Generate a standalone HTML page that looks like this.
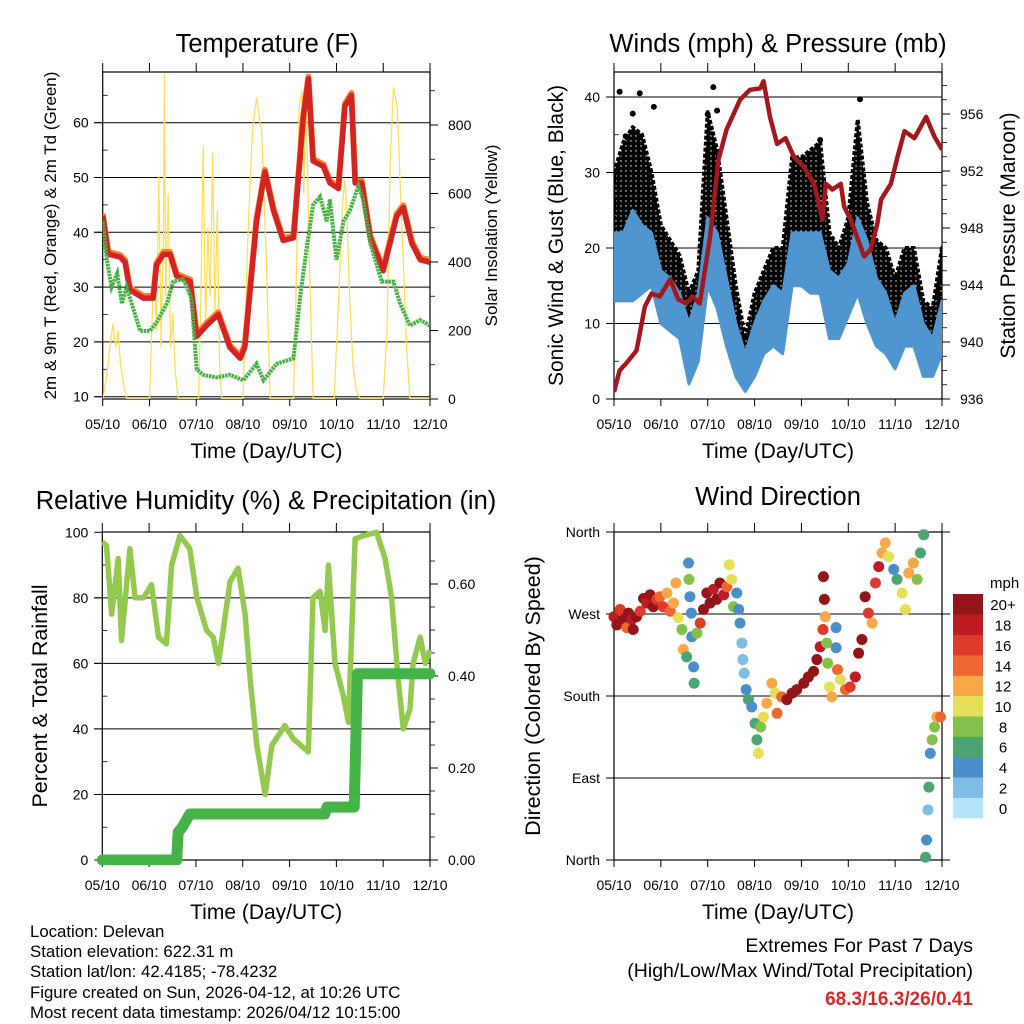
<!DOCTYPE html>
<html><head><meta charset="utf-8"><style>
html,body{margin:0;padding:0;background:#fff}
svg{display:block;font-family:"Liberation Sans",sans-serif}
</style></head><body>
<svg id="root" width="1024" height="1024" viewBox="0 0 1024 1024" xmlns="http://www.w3.org/2000/svg">
<defs>
<pattern id="dotpat" width="5" height="5" patternUnits="userSpaceOnUse"><rect width="5" height="5" fill="#000"/><circle cx="1" cy="1" r="0.7" fill="#fff"/></pattern>
</defs>
<rect width="1024" height="1024" fill="#fff"/>
<g id="g1"></g>
<g id="g2"></g>
<g id="g3"></g>
<g id="g4"></g>
<g id="gt" font-size="16.8" fill="#000">
<text x="30" y="937">Location: Delevan</text>
<text x="30" y="957">Station elevation: 622.31 m</text>
<text x="30" y="977">Station lat/lon: 42.4185; -78.4232</text>
<text x="30" y="998">Figure created on Sun, 2026-04-12, at 10:26 UTC</text>
<text x="30" y="1018">Most recent data timestamp: 2026/04/12 10:15:00</text>
<text x="973" y="952" text-anchor="end" font-size="19.5">Extremes For Past 7 Days</text>
<text x="973" y="977" text-anchor="end" font-size="19.5">(High/Low/Max Wind/Total Precipitation)</text>
<text x="973" y="1005" text-anchor="end" font-size="19" font-weight="bold" fill="#d42a2a">68.3/16.3/26/0.41</text>
</g>
</svg>
<script>
// ---------- DATA ----------
const dayLabels = ["05/10","06/10","07/10","08/10","09/10","10/10","11/10","12/10"];
// Temperature (F)
const tempT = [0,0.12,0.37,0.48,0.58,0.87,1.08,1.15,1.3,1.44,1.58,1.87,2.01,2.22,2.47,2.72,2.94,3.04,3.29,3.47,3.65,3.86,4.08,4.29,4.40,4.5,4.72,4.86,5.04,5.18,5.32,5.4,5.54,5.72,6.0,6.29,6.43,6.61,6.79,7.0];
const tempV = [43,36,35.5,34.5,29.5,28,28,34,36,36,32,31,21,23,25,19,17,19,42,51,44,38.5,39,61,68,53,52,49,48,63,65,49,49,39,33,43,44.5,38,35,34.5];
const dewT = [0,0.09,0.19,0.31,0.41,0.51,0.62,0.8,1.01,1.15,1.37,1.51,1.72,1.9,2.01,2.15,2.44,2.72,3.01,3.29,3.44,3.72,4.08,4.22,4.36,4.5,4.65,4.79,4.86,5.0,5.15,5.29,5.47,5.57,5.72,5.97,6.22,6.36,6.57,6.79,7.0];
const dewV = [42,35,30,32.5,27,30,27,22,22,23.5,27,31,31.5,28,15,14,13.5,14,13,16,13,16,17,28,37,45,46.5,42,46,35,42,44,48.5,46,38,31,31,27,23,24,23];
const solarT = [0,.08,.15,.22,.28,.33,.38,.45,.52,1.0,1.1,1.15,1.2,1.25,1.3,1.32,1.35,1.4,1.45,1.5,1.55,1.62,2.05,2.1,2.15,2.2,2.25,2.3,2.35,2.4,2.45,2.5,2.55,3.0,3.1,3.2,3.29,3.4,3.5,3.58,4.08,4.15,4.2,4.26,4.3,4.35,4.42,4.5,4.95,5.05,5.12,5.18,5.22,5.28,5.35,5.42,5.5,6.0,6.08,6.15,6.22,6.3,6.4,6.5,6.57,7.0];
const solarV = [0,60,150,220,150,200,100,40,0,0,400,200,650,150,500,950,300,600,150,250,80,0,0,300,740,200,500,300,720,250,550,100,0,0,450,780,880,780,400,0,0,400,850,900,600,880,400,0,0,300,550,640,550,300,100,30,0,0,200,700,910,850,500,150,0,0];
// Winds (mph) & pressure (mb), sampled every 0.2 day
const windT = [0,0.2,0.4,0.6,0.8,1.0,1.2,1.4,1.6,1.8,2.0,2.2,2.4,2.6,2.8,3.0,3.2,3.4,3.6,3.8,4.0,4.2,4.4,4.6,4.8,5.0,5.2,5.4,5.6,5.8,6.0,6.2,6.4,6.6,6.8,7.0];
const windLo = [13,13,13,14,15,10,9,8,2,5,15,12,7,3,1,3,6,7,6,15,15,14,14,8,8,11,14,10,7,6,4,7,7,3,3,6];
const windHi = [22,22,25,23,22,17,16,14,10,14,24,22,16,10,6,10,13,15,14,22,22,22,22,17,16,18,24,21,16,14,10,14,15,10,8,13];
const gustHi = [30,34,36,35,30,23,21,19,14,17,38,33,24,15,8,14,17,20,20,32,32,33,34,22,20,24,37,26,21,20,16,20,20,13,12,20];
const gustPeakT = [0.12,0.55,0.85,2.12,5.25,0.4,2.0,0.25,4.4,2.2];
const gustPeakV = [40.7,40.5,38.7,41.3,39.7,37.8,37.7,34.8,34.3,38.2];
const presT = [0,0.12,0.26,0.48,0.66,0.8,0.98,1.2,1.37,1.54,1.68,1.83,2.05,2.23,2.4,2.69,2.9,3.12,3.19,3.33,3.48,3.66,3.84,4.05,4.27,4.45,4.52,4.66,4.84,4.91,5.05,5.34,5.48,5.62,5.7,5.91,6.05,6.2,6.41,6.66,6.84,7.0];
const presV = [936.5,938.0,938.5,939.4,942.5,943.4,943.2,944.4,943,942.7,943.2,942.7,947.4,952.8,954.9,957,957.7,957.8,958.3,955.8,953.9,954.3,953,952.3,951.1,948.6,951.1,950.7,951.1,949.5,948.6,946,946.5,948.3,950,951.1,953,954.8,954.3,955.8,954.4,953.5];
// Relative humidity (%) & precipitation (in)
const rhT = [0,0.09,0.2,0.34,0.41,0.59,0.7,0.88,1.05,1.2,1.37,1.48,1.66,1.87,2.02,2.23,2.37,2.48,2.73,2.9,3.05,3.16,3.3,3.48,3.62,3.9,4.08,4.4,4.5,4.65,4.76,4.83,4.97,5.15,5.26,5.4,5.58,5.86,6.04,6.18,6.32,6.43,6.57,6.64,6.79,6.9,7.0];
const rhV = [97,96,75,92,67,95,80,80,84,68,66,90,99,95,80,70,68,60,85,89,75,55,35,20,35,41,37,33,80,82,70,90,60,50,42,98,99,100,92,80,55,40,46,60,68,60,64];
const precipT = [0,1.59,1.62,1.7,1.87,4.75,4.8,5.38,5.45,7.0];
const precipV = [0,0,0.06,0.07,0.1,0.1,0.115,0.115,0.405,0.405];
// Wind direction (deg) colored by speed (mph)
const dirT = [0,.06,.13,.2,.27,.31,.38,.41,.48,.56,.63,.70,.77,.84,.91,.98,1.05,1.13,1.2,1.27,1.32,1.37,1.45,1.48,1.55,1.59,1.6,1.62,1.65,1.66,1.7,1.71,1.77,1.84,1.91,1.98,2.05,2.12,2.19,2.26,2.34,2.41,2.46,2.51,2.55,2.62,2.66,2.69,2.73,2.75,2.78,2.82,2.87,2.94,3.01,3.05,3.08,3.13,3.19,3.26,3.37,3.44,3.48,3.58,3.69,3.8,3.9,4.05,4.15,4.26,4.33,4.4,4.46,4.47,4.49,4.51,4.54,4.56,4.6,4.65,4.74,4.74,4.77,4.83,4.94,5.04,5.15,5.22,5.29,5.36,5.43,5.51,5.58,5.65,5.72,5.79,5.86,5.97,6.04,6.15,6.22,6.29,6.39,6.47,6.54,6.61,6.65,6.67,6.7,6.72,6.75,6.79,6.84,6.89,6.97];
const dirV = [267,258,275,264,255,271,264,253,267,273,287,282,291,278,286,289,278,293,273,282,304,266,253,231,223,326,308,289,271,245,212,194,249,260,275,293,282,297,286,304,291,300,324,308,278,293,275,260,238,220,205,187,176,168,150,132,117,146,157,172,194,183,161,179,176,183,187,194,201,207,220,234,253,311,286,267,238,216,190,179,255,233,209,198,187,190,201,227,242,289,271,260,304,322,337,348,333,319,308,293,275,315,326,308,337,357,3,22,55,80,117,132,146,157,157];
const dirS = [18,20,16,20,14,20,18,20,20,16,20,18,20,20,16,14,16,12,14,12,12,10,8,12,6,4,8,4,4,4,4,6,8,16,20,20,20,18,20,20,18,14,10,10,8,4,4,4,2,2,2,4,6,4,6,6,10,8,10,12,12,10,14,14,20,20,20,20,20,20,20,18,16,20,20,12,8,8,10,12,4,4,14,10,14,16,18,20,20,20,16,12,16,18,12,12,10,4,6,10,10,12,12,8,6,6,6,4,2,6,4,8,8,12,14];
const speedColors = ["#b7e3f7","#7fbde5","#4a8fc7","#4aa572","#84c14c","#e5df58","#f8a74a","#ee6731","#e03a2b","#bd1c23","#921619"];
const speedLabels = ["0","2","4","6","8","10","12","14","16","18","20+"];

// ---------- HELPERS ----------
const NS="http://www.w3.org/2000/svg";
function mk(parent, tag, attrs, txt){const e=document.createElementNS(NS,tag);for(const k in attrs)e.setAttribute(k,attrs[k]);if(txt!==undefined)e.textContent=txt;parent.appendChild(e);return e;}
function linear(d0,d1,r0,r1){return v=>r0+(v-d0)*(r1-r0)/(d1-d0);}
function pts(ts,vs,fx,fy){return ts.map((t,i)=>fx(t).toFixed(1)+","+fy(vs[i]).toFixed(1)).join(" ");}

function frame(g,P,opts){
  opts.grid.forEach(v=>{const y=P.yl(v);const l=mk(g,"line",{x1:P.gx0,x2:P.gx1,y1:y,y2:y,stroke:"#000","stroke-width":1});
    
    });
  const b=mk(g,"rect",{x:P.x0,y:P.y0,width:P.x1-P.x0,height:P.y1-P.y0,fill:"none",stroke:"#000","stroke-width":1.2});
  
  
  dayLabels.forEach((lab,i)=>{const x=P.x(i);
    mk(g,"line",{x1:x,x2:x,y1:P.y1,y2:P.y1+7,stroke:"#000"});
    mk(g,"line",{x1:x,x2:x,y1:P.y0,y2:P.y0-9,stroke:"#000"});
    const t=mk(g,"text",{x:x,y:P.y1+30,"text-anchor":"middle","font-size":14},lab);
    
    });
  const xt=mk(g,"text",{x:(P.x0+P.x1)/2,y:P.y1+59,"text-anchor":"middle","font-size":21},"Time (Day/UTC)");
  
  
  opts.lt.forEach((v,i)=>{const y=P.yl(v);mk(g,"line",{x1:P.x0-8,x2:P.x0,y1:y,y2:y,stroke:"#000"});
    const t=mk(g,"text",{x:P.x0-14,y:y+5,"text-anchor":"end","font-size":14},opts.ltl[i]);
    
    });
  (opts.lminor||[]).forEach(v=>{const y=P.yl(v);mk(g,"line",{x1:P.x0,x2:P.x0+5,y1:y,y2:y,stroke:"#000","stroke-width":0.8});});
  if(opts.rt){opts.rt.forEach((v,i)=>{const y=P.yr(v);mk(g,"line",{x1:P.x1,x2:P.x1+8,y1:y,y2:y,stroke:"#000"});
    const t=mk(g,"text",{x:P.x1+18,y:y+5,"font-size":14},opts.rtl[i]);
    
    });
    (opts.rminor||[]).forEach(v=>{const y=P.yr(v);mk(g,"line",{x1:P.x1,x2:P.x1+5,y1:y,y2:y,stroke:"#000","stroke-width":0.8});});}
  const tt=mk(g,"text",{x:opts.titleX,y:opts.titleY,"text-anchor":"middle","font-size":25.5},opts.title);
  
  
  const ly=mk(g,"text",{transform:`translate(${opts.lx},${(P.y0+P.y1)/2}) rotate(-90)`,"text-anchor":"middle","font-size":opts.lfs},opts.ltitle);
  
  
  if(opts.rtitle){const ry=mk(g,"text",{transform:`translate(${opts.rx},${(P.y0+P.y1)/2}) rotate(-90)`,"text-anchor":"middle","font-size":opts.rfs},opts.rtitle);
    
    }
}
function range(a,b,s){const r=[];for(let v=a;v<=b+1e-9;v+=s)r.push(+v.toFixed(4));return r;}

// ---------- PANEL 1: Temperature ----------
(function(){
const g=document.getElementById("g1");
const P={x0:102.7,x1:430,y0:72,y1:399,gx0:94,gx1:430};
P.x=linear(0,7,P.x0,P.x1);P.yl=linear(10,60,396.7,122.7);P.yr=linear(0,800,399,125);
const cl=mk(g,"clipPath",{id:"c1"});mk(cl,"rect",{x:P.x0,y:P.y0,width:P.x1-P.x0,height:P.y1-P.y0});
frame(g,P,{grid:[10,20,30,40,50,60],lt:[10,20,30,40,50,60],ltl:["10","20","30","40","50","60"],lminor:range(15,65,10),
  rt:[0,200,400,600,800],rtl:["0","200","400","600","800"],rminor:range(100,900,100),
  title:"Temperature (F)",titleX:267,titleY:52,ltitle:"2m & 9m T (Red, Orange) & 2m Td (Green)",lx:56,lfs:17,
  rtitle:"Solar Insolation (Yellow)",rx:497,rfs:17});
const d=mk(g,"g",{"clip-path":"url(#c1)"});
const s=mk(d,"polyline",{points:pts(solarT,solarV,P.x,P.yr),fill:"none",stroke:"#ffdf5a","stroke-width":1.3});


const o=mk(d,"polyline",{points:pts(tempT,tempV.map(v=>v+0.4),P.x,P.yl),fill:"none",stroke:"#f4822f","stroke-width":6,"stroke-linejoin":"round"});


const r=mk(d,"polyline",{points:pts(tempT,tempV,P.x,P.yl),fill:"none",stroke:"#d42323","stroke-width":5.5,"stroke-linejoin":"round"});


const gr=mk(d,"polyline",{points:pts(dewT,dewV,P.x,P.yl),fill:"none",stroke:"#45b043","stroke-width":4,"stroke-dasharray":"2.5 0.8"});


})();

// ---------- PANEL 2: Winds ----------
(function(){
const g=document.getElementById("g2");
const P={x0:614,x1:942,y0:72,y1:399,gx0:606,gx1:942};
P.x=linear(0,7,P.x0,P.x1);P.yl=linear(0,40,399,97);P.yr=linear(936,956,399,114);
const cl=mk(g,"clipPath",{id:"c2"});mk(cl,"rect",{x:P.x0,y:P.y0-12,width:P.x1-P.x0,height:P.y1-P.y0+12});
frame(g,P,{grid:[10,20,30,40],lt:[0,10,20,30,40],ltl:["0","10","20","30","40"],lminor:range(5,40,10),
  rt:[936,940,944,948,952,956],rtl:["936","940","944","948","952","956"],rminor:range(937,958,1),
  title:"Winds (mph) & Pressure (mb)",titleX:778,titleY:52,ltitle:"Sonic Wind & Gust (Blue, Black)",lx:563,lfs:21,
  rtitle:"Station Pressure (Maroon)",rx:1015,rfs:21});
const d=mk(g,"g",{"clip-path":"url(#c2)"});
const top=windT.map((t,i)=>P.x(t).toFixed(1)+","+P.yl(gustHi[i]).toFixed(1));
const bot=windT.map((t,i)=>P.x(t).toFixed(1)+","+P.yl(windHi[i]-4).toFixed(1)).reverse();
const gp=mk(d,"polygon",{points:top.concat(bot).join(" "),fill:"url(#dotpat)",stroke:"#000","stroke-width":4,"stroke-linejoin":"round","stroke-dasharray":"4 2"});


gustPeakT.forEach((t,i)=>{const c=mk(d,"circle",{cx:P.x(t),cy:P.yl(gustPeakV[i]),r:3,fill:"#000"});
  
  });
const wt=windT.map((t,i)=>P.x(t).toFixed(1)+","+P.yl(windHi[i]).toFixed(1));
const wb=windT.map((t,i)=>P.x(t).toFixed(1)+","+P.yl(windLo[i]).toFixed(1)).reverse();
const bp=mk(d,"polygon",{points:wt.concat(wb).join(" "),fill:"#4f95d0",stroke:"#4f95d0","stroke-width":3,"stroke-linejoin":"round"});


const pl=mk(d,"polyline",{points:pts(presT,presV,P.x,P.yr),fill:"none",stroke:"#a3181c","stroke-width":4.5,"stroke-linejoin":"round"});


})();

// ---------- PANEL 3: RH & Precip ----------
(function(){
const g=document.getElementById("g3");
const P={x0:102.3,x1:430,y0:532,y1:860,gx0:94,gx1:430};
P.x=linear(0,7,P.x0,P.x1);P.yl=linear(0,100,860,532.3);P.yr=linear(0,0.6,860,584);
const cl=mk(g,"clipPath",{id:"c3"});mk(cl,"rect",{x:P.x0-8,y:P.y0-5,width:P.x1-P.x0+16,height:P.y1-P.y0+10});
frame(g,P,{grid:[20,40,60,80],lt:[0,20,40,60,80,100],ltl:["0","20","40","60","80","100"],lminor:range(10,90,20),
  rt:[0,0.2,0.4,0.6],rtl:["0.00","0.20","0.40","0.60"],rminor:range(0.05,0.65,0.05),
  title:"Relative Humidity (%) & Precipitation (in)",titleX:266,titleY:509,ltitle:"Percent & Total Rainfall",lx:47,lfs:21.5});
const d=mk(g,"g",{"clip-path":"url(#c3)"});
const rh=mk(d,"polyline",{points:pts(rhT,rhV,P.x,P.yl),fill:"none",stroke:"#94c94f","stroke-width":5.5,"stroke-linejoin":"round"});


const pr=mk(d,"polyline",{points:pts(precipT,precipV,P.x,P.yr),fill:"none",stroke:"#45b348","stroke-width":11,"stroke-linejoin":"round","stroke-linecap":"round"});


})();

// ---------- PANEL 4: Wind direction ----------
(function(){
const g=document.getElementById("g4");
const P={x0:614,x1:942,y0:532,y1:860,gx0:606,gx1:950};
P.x=linear(0,7,P.x0,P.x1);P.yl=linear(0,360,860,532);
frame(g,P,{grid:[0,90,180,270,360],lt:[0,90,180,270,360],ltl:["North","East","South","West","North"],
  title:"Wind Direction",titleX:778,titleY:505,ltitle:"Direction (Colored By Speed)",lx:540,lfs:21.5});
const d=mk(g,"g",{});
dirT.forEach((t,i)=>{const b=Math.min(10,Math.floor(dirS[i]/2));
  const c=mk(d,"circle",{cx:P.x(t),cy:P.yl(dirV[i]),r:5.5,fill:speedColors[b]});
  
  });
const cb=mk(g,"g",{});


const h=(818-594)/11;
speedColors.forEach((c,i)=>{const y=818-(i+1)*h;
  const r=mk(cb,"rect",{x:953,y:y,width:30,height:h+0.3,fill:c});
  
  
  const t=mk(cb,"text",{x:1003,y:y+h/2+6,"text-anchor":"middle","font-size":15},speedLabels[i]);
  
  });
const u=mk(cb,"text",{x:990,y:588,"font-size":15},"mph");


})();
</script>
</body></html>
